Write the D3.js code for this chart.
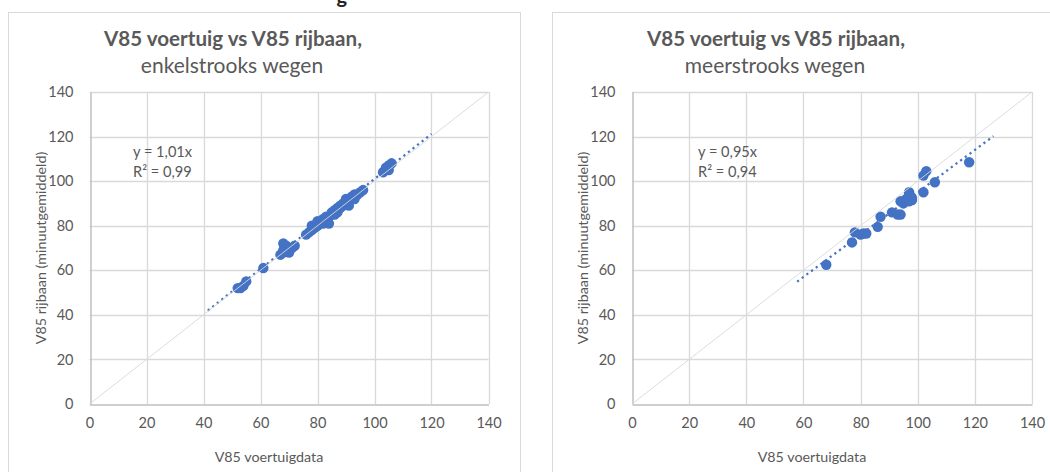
<!DOCTYPE html>
<html>
<head>
<meta charset="utf-8">
<script src="https://cdn.jsdelivr.net/npm/d3@7"></script>
<style>
  html, body { margin: 0; padding: 0; background: #ffffff; }
  svg { display: block; font-family: Lato, "Open Sans", sans-serif; }
</style>
</head>
<body>
<svg id="chart" width="1050" height="472"></svg>
<script>
// V85 per vehicle (x) vs V85 per lane, minute mean (y) — single-lane roads
const enkelX = [52, 53, 54, 55, 61, 67, 68, 68, 69, 70, 71, 72, 68, 76, 77, 78, 78, 79, 80, 80,
                81, 82, 82, 83, 83, 84, 84, 85, 85, 86, 86, 87, 87, 88, 88, 89, 89, 90, 90, 91,
                91, 92, 92, 93, 93, 94, 95, 96, 103, 104, 104, 105, 106, 105];
const enkelY = [52, 52, 53, 55, 61, 67, 69, 72, 71, 68, 70, 71, 68, 76, 77, 78, 80, 79, 80, 82,
                81, 81, 83, 82, 84, 84, 81, 85, 86, 85, 87, 88, 86, 88, 89, 89, 90, 90, 92, 91,
                89, 92, 93, 92, 94, 94, 95, 96, 104, 105, 106, 107, 108, 105];

// multi-lane roads
const meerX = [68, 77, 78, 80, 81, 82, 86, 87, 91, 93, 94, 95, 94, 96, 97, 97, 98, 98, 97, 102,
               102, 103, 106, 118];
const meerY = [62.5, 72.5, 77, 76, 76.5, 76.5, 79.5, 84, 86, 85, 85, 90, 91, 92, 95, 94, 91.5, 92.5, 91, 95,
               102.5, 104.5, 99.5, 108.5];

// fitted trendlines (through origin) and their labels
const enkelFit = { slope: 1.01, from: 41.5, to: 120, eq: "y = 1,01x", r2: "R² = 0,99" };
const meerFit  = { slope: 0.95, from: 57.8, to: 126.5, eq: "y = 0,95x", r2: "R² = 0,94" };

const ticks = [0, 20, 40, 60, 80, 100, 120, 140];
const titleMain = "V85 voertuig vs V85 rijbaan,";
const subtitles = ["enkelstrooks wegen", "meerstrooks wegen"];
const xTitle = "V85 voertuigdata";
const yTitle = "V85 rijbaan (minuutgemiddeld)";

const svg = d3.select("#chart");
const blue = "#4472C4";
const textGray = "#595959";

// heading of the page above, mostly out of view
svg.append("text")
  .attr("x", 347).attr("y", 3)
  .attr("text-anchor", "end")
  .attr("font-weight", 700).attr("font-size", 20)
  .attr("fill", "#262626")
  .text("g");

const panels = [
  { box: [8, 12, 512, 470], px: [89.5, 488.5], py: [404, 92], xs: enkelX, ys: enkelY, fit: enkelFit,
    sub: subtitles[0], eqX: 133 },
  { box: [552, 12, 510, 470], px: [632, 1032], py: [404, 92], xs: meerX, ys: meerY, fit: meerFit,
    sub: subtitles[1], eqX: 698 }
];

panels.forEach(p => {
  const g = svg.append("g");
  g.append("rect")
    .attr("x", p.box[0] + 0.5).attr("y", p.box[1] + 0.5)
    .attr("width", p.box[2]).attr("height", p.box[3])
    .attr("fill", "#fff").attr("stroke", "#d9d9d9").attr("stroke-width", 1);

  const x = d3.scaleLinear().domain([0, 140]).range(p.px);
  const y = d3.scaleLinear().domain([0, 140]).range(p.py);
  const cx = (p.px[0] + p.px[1]) / 2;

  // titles
  g.append("text").attr("x", cx - 56).attr("y", 46)
    .attr("text-anchor", "middle").attr("font-weight", 700).attr("font-size", 20.6)
    .attr("fill", textGray).text(titleMain);
  g.append("text").attr("x", cx - 57).attr("y", 73)
    .attr("text-anchor", "middle").attr("font-size", 21)
    .attr("fill", textGray).text(p.sub);

  // gridlines
  g.append("g").selectAll("line.v").data(ticks.slice(1)).join("line")
    .attr("x1", d => Math.round(x(d)) + 0.5).attr("x2", d => Math.round(x(d)) + 0.5)
    .attr("y1", y(0)).attr("y2", y(140))
    .attr("stroke", "#d9d9d9").attr("stroke-width", 1.3);
  g.append("g").selectAll("line.h").data(ticks.slice(1)).join("line")
    .attr("y1", d => Math.round(y(d)) + 0.5).attr("y2", d => Math.round(y(d)) + 0.5)
    .attr("x1", x(0)).attr("x2", x(140))
    .attr("stroke", "#d9d9d9").attr("stroke-width", 1.3);

  // axes
  const xAxis = g.append("g").attr("transform", `translate(0,${Math.round(y(0)) + 0.5})`)
    .call(d3.axisBottom(x).tickValues(ticks).tickSize(0).tickPadding(13));
  const yAxis = g.append("g").attr("transform", `translate(${Math.round(x(0)) + 0.5},0)`)
    .call(d3.axisLeft(y).tickValues(ticks).tickSize(0).tickPadding(17));
  [xAxis, yAxis].forEach(a => {
    a.select(".domain").attr("stroke", "#bfbfbf").attr("stroke-width", 1.5);
    a.selectAll("text").attr("fill", textGray).attr("font-size", 14.5)
      .attr("font-family", "Lato, sans-serif");
  });

  // axis titles
  g.append("text").attr("x", cx - 20).attr("y", 462)
    .attr("text-anchor", "middle").attr("font-size", 14.3).attr("fill", textGray).text(xTitle);
  g.append("text")
    .attr("transform", `translate(${p.px[0] - 44},${(p.py[0] + p.py[1]) / 2}) rotate(-90)`)
    .attr("text-anchor", "middle").attr("font-size", 14.3).attr("fill", textGray).text(yTitle);

  // dotted trendline
  g.append("line")
    .attr("x1", x(p.fit.from)).attr("y1", y(p.fit.from * p.fit.slope))
    .attr("x2", x(p.fit.to)).attr("y2", y(p.fit.to * p.fit.slope))
    .attr("stroke", blue).attr("stroke-width", 2.2)
    .attr("stroke-dasharray", "2.2 3.6");

  // data points
  g.append("g").selectAll("circle").data(d3.range(p.xs.length)).join("circle")
    .attr("cx", i => x(p.xs[i])).attr("cy", i => y(p.ys[i]))
    .attr("r", 5.2).attr("fill", blue);

  // reference line y = x
  g.append("line")
    .attr("x1", x(0)).attr("y1", y(0)).attr("x2", x(140)).attr("y2", y(140))
    .attr("stroke", "#d9d9d9").attr("stroke-width", 1).attr("opacity", 0.9);

  // equation labels
  g.append("text").attr("x", p.eqX).attr("y", 157).attr("font-size", 14.6)
    .attr("fill", textGray).text(p.fit.eq);
  g.append("text").attr("x", p.eqX).attr("y", 177).attr("font-size", 14.6)
    .attr("fill", textGray).text(p.fit.r2);
});
</script>
</body>
</html>
